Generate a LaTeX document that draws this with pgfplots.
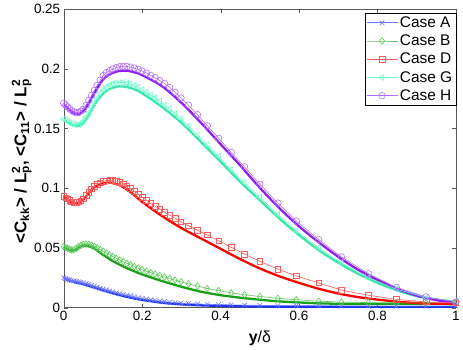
\documentclass[border=0pt]{standalone}
\usepackage{pgfplots}
\pgfplotsset{compat=1.18}
\usepackage{pgfplotstable}
\usepackage{fontspec}
\setmainfont{Liberation Sans}
\definecolor{cAt}{RGB}{20,50,240}
\definecolor{cAl}{RGB}{110,120,255}
\definecolor{cBt}{RGB}{25,160,25}
\definecolor{cBl}{RGB}{90,200,90}
\definecolor{cDt}{RGB}{255,0,0}
\definecolor{cDl}{RGB}{255,90,90}
\definecolor{cGt}{RGB}{60,230,170}
\definecolor{cGl}{RGB}{100,255,200}
\definecolor{cHt}{RGB}{140,30,240}
\definecolor{cHl}{RGB}{180,110,255}

% <C_kk>/L_p^2 on the stretched grid (every few points)
\pgfplotstableread{
x A B D G H
0 0.025 0.051 0.093 0.158 0.171
0.005 0.0244 0.0502 0.092 0.157 0.1695
0.01 0.0238 0.0495 0.091 0.156 0.168
0.015 0.0233 0.0488 0.0897 0.155 0.1665
0.02 0.0228 0.0482 0.0885 0.154 0.165
0.026 0.0224 0.0485 0.0881 0.1534 0.1638
0.032 0.022 0.0495 0.088 0.153 0.1631
0.038 0.0216 0.051 0.0884 0.1533 0.1633
0.044 0.0212 0.0521 0.0895 0.1545 0.1645
0.05 0.0207 0.053 0.091 0.156 0.166
0.057 0.0201 0.0532 0.0938 0.1595 0.1695
0.064 0.0194 0.0529 0.0966 0.1634 0.1734
0.071 0.0187 0.0524 0.0993 0.1676 0.1776
0.078 0.0179 0.0513 0.1014 0.1718 0.1818
0.085 0.0172 0.0501 0.103 0.1755 0.186
0.093 0.0164 0.0486 0.1045 0.1794 0.1905
0.101 0.0156 0.0471 0.1056 0.1823 0.1943
0.109 0.0148 0.0457 0.1062 0.1847 0.1967
0.117 0.014 0.0442 0.1065 0.1864 0.1984
0.125 0.0133 0.0428 0.1064 0.1875 0.1998
0.134 0.0125 0.0413 0.1059 0.1882 0.2009
0.143 0.0117 0.0398 0.1049 0.1885 0.2017
0.152 0.011 0.0384 0.1036 0.1885 0.202
0.161 0.0103 0.0371 0.102 0.1879 0.2018
0.17 0.0097 0.0358 0.1 0.187 0.2013
0.18 0.009 0.0344 0.0976 0.186 0.2005
0.19 0.0083 0.0331 0.095 0.1845 0.1995
0.2 0.0077 0.0318 0.0925 0.1825 0.198
0.211 0.0071 0.0305 0.0897 0.1806 0.1963
0.222 0.0065 0.0293 0.0871 0.1782 0.1944
0.233 0.006 0.0281 0.0848 0.1757 0.1924
0.245 0.0055 0.0268 0.0823 0.1728 0.19
0.257 0.005 0.0256 0.0799 0.1697 0.1876
0.27 0.0046 0.0243 0.0774 0.1663 0.1843
0.284 0.0042 0.023 0.0747 0.1624 0.1802
0.299 0.0038 0.0216 0.0718 0.158 0.1755
0.318 0.0034 0.0199 0.0686 0.152 0.1695
0.341 0.0031 0.018 0.0648 0.1445 0.1615
0.366 0.0028 0.016 0.0608 0.136 0.1522
0.395 0.0025 0.0142 0.056 0.1265 0.1418
0.427 0.0023 0.0124 0.0505 0.1155 0.13
0.461 0.0021 0.0108 0.0448 0.1045 0.1178
0.5 0.0019 0.0093 0.0388 0.0925 0.1033
0.546 0.0017 0.0078 0.0322 0.078 0.0875
0.593 0.0016 0.0066 0.0265 0.0645 0.0725
0.65 0.0015 0.0054 0.0206 0.05 0.057
0.708 0.0014 0.0046 0.0147 0.0375 0.0425
0.777 0.0013 0.0042 0.0103 0.025 0.0283
0.848 0.0013 0.004 0.0069 0.0155 0.017
0.924 0.0012 0.004 0.0047 0.0085 0.009
1 0.0012 0.004 0.004 0.0055 0.0048
}\marks

% <C_11>/L_p^2
\pgfplotstableread{
x A B D G H
0 0.0245 0.0505 0.0925 0.157 0.170
0.01 0.0232 0.049 0.0905 0.155 0.167
0.02 0.022 0.0477 0.088 0.153 0.164
0.03 0.0211 0.0484 0.0875 0.152 0.162
0.04 0.0204 0.0507 0.088 0.1522 0.1622
0.05 0.0196 0.052 0.0905 0.1545 0.1645
0.06 0.0187 0.0518 0.0943 0.159 0.169
0.07 0.0177 0.0508 0.0981 0.1648 0.1748
0.08 0.0166 0.049 0.101 0.1705 0.1808
0.09 0.0155 0.0467 0.1028 0.1752 0.1862
0.1 0.0145 0.0443 0.104 0.1788 0.1908
0.11 0.0135 0.0421 0.1045 0.1817 0.1938
0.12 0.0125 0.0399 0.1045 0.1836 0.1958
0.14 0.0107 0.0364 0.1028 0.1852 0.198
0.16 0.0091 0.0332 0.0992 0.1847 0.1983
0.18 0.0077 0.0304 0.0941 0.1828 0.197
0.2 0.0065 0.0278 0.0885 0.1794 0.1946
0.25 0.0041 0.0223 0.0768 0.1681 0.1855
0.3 0.0027 0.0175 0.0666 0.1547 0.1715
0.35 0.0019 0.0133 0.0579 0.1386 0.1547
0.4 0.0014 0.0104 0.0492 0.1222 0.1368
0.45 0.0011 0.0083 0.0406 0.1053 0.119
0.5 0.0009 0.0066 0.0328 0.0899 0.1003
0.55 0.0008 0.0052 0.0262 0.0745 0.0832
0.6 0.0007 0.0043 0.0207 0.0607 0.068
0.65 0.0007 0.0036 0.0158 0.0481 0.0547
0.7 0.0006 0.0032 0.0118 0.0376 0.0425
0.75 0.0006 0.003 0.0088 0.0284 0.0318
0.8 0.0006 0.003 0.0067 0.0207 0.0231
0.85 0.0006 0.003 0.005 0.0144 0.0157
0.9 0.0006 0.003 0.0038 0.0096 0.0101
0.95 0.0006 0.003 0.0033 0.0066 0.0063
1 0.0006 0.003 0.003 0.0049 0.0038
}\thick

\pgfplotsset{
  thk/.style={line width=2.3pt,smooth,forget plot},
  mk/.style={line width=0.6pt,mark size=3.3pt,mark options={solid,line width=0.6pt}},
}

\begin{document}
\begin{tikzpicture}
\begin{axis}[scale only axis,width=394pt,height=300pt,
  xmin=0,xmax=1,ymin=0,ymax=0.25,
  xtick={0,0.2,0.4,0.6,0.8,1},ytick={0,0.05,0.1,0.15,0.2,0.25},
  scaled ticks=false,
  tick align=inside,major tick length=4pt,
  axis line style={black!65},tick style={black!65},
  tick label style={font=\fontsize{13.5}{15}\selectfont,/pgf/number format/assume math mode=true},
  yticklabel style={/pgf/number format/.cd,fixed,precision=2},
  xlabel={\textbf{y}/δ},
  ylabel={\textbf{<C\textsubscript{kk}> / L\rlap{\textsuperscript{2}}\textsubscript{p}, <C\textsubscript{11}> / L\rlap{\textsuperscript{2}}\textsubscript{p}}},
  xlabel style={font=\fontsize{16}{18}\selectfont,at={(axis description cs:0.5,0)},yshift=-31pt,anchor=center},
  ylabel style={font=\fontsize{17}{19}\selectfont,at={(axis description cs:-0.107,0.49)},anchor=center},
  legend cell align=left,
  legend style={at={(1,1)},anchor=north east,yshift=-4pt,draw=black,
    font=\fontsize{15.5}{17}\selectfont,inner sep=1.5pt,row sep=2pt},
  legend image code/.code={\draw[mark repeat=2,mark phase=2,#1] plot coordinates {(0cm,0cm) (0.55cm,0cm) (1.1cm,0cm)};},
]
\addplot[cAt,thk] table[x=x,y=A]{\thick};
\addplot[cBt,thk] table[x=x,y=B]{\thick};
\addplot[cDt,thk] table[x=x,y=D]{\thick};
\addplot[cGt,thk] table[x=x,y=G]{\thick};
\addplot[cHt,thk] table[x=x,y=H]{\thick};

\addplot[cAl,mk,mark=x] table[x=x,y=A]{\marks};
\addlegendentry{Case A}
\addplot[cBl,mk,mark=diamond] table[x=x,y=B]{\marks};
\addlegendentry{Case B}
\addplot[cDl,mk,mark=square,mark size=2.8pt] table[x=x,y=D]{\marks};
\addlegendentry{Case D}
\addplot[cGl,mk,mark=triangle,mark options={rotate=90}] table[x=x,y=G]{\marks};
\addlegendentry{Case G}
\addplot[cHl,mk,mark=o] table[x=x,y=H]{\marks};
\addlegendentry{Case H}
\end{axis}
\path ([xshift=-64pt,yshift=-40pt]current axis.south west) rectangle ([xshift=5pt,yshift=9pt]current axis.north east);
\end{tikzpicture}
\end{document}
